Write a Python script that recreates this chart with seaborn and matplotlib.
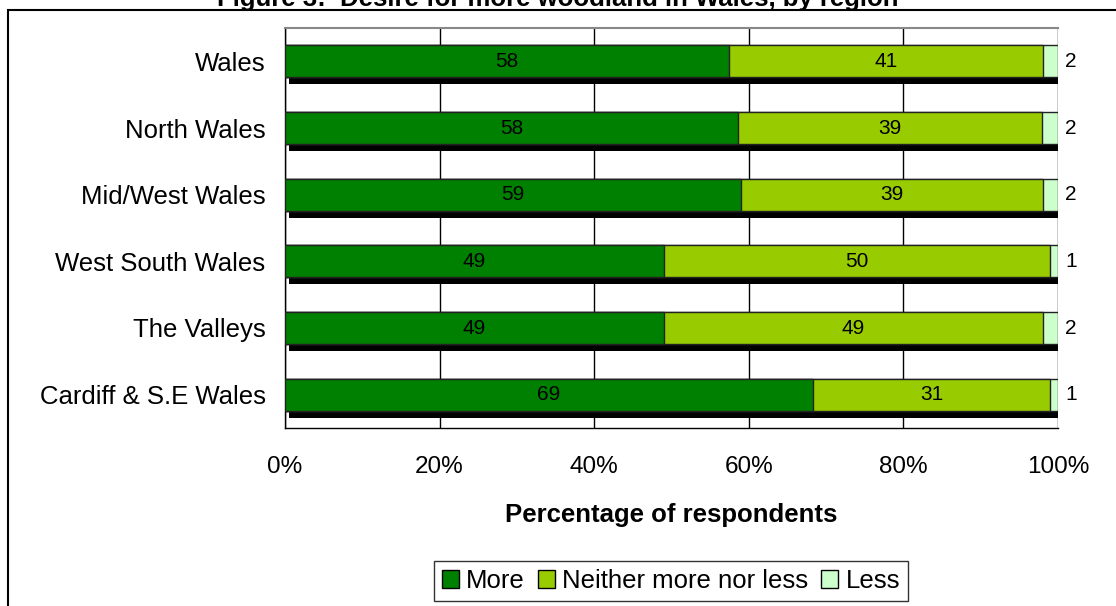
import matplotlib
matplotlib.use('Agg')
import matplotlib.pyplot as plt
import matplotlib.transforms as mtransforms
from matplotlib.patches import Rectangle, Patch
import seaborn as sns
import pandas as pd
import numpy as np

regions = ['Wales', 'North Wales', 'Mid/West Wales', 'West South Wales',
           'The Valleys', 'Cardiff & S.E Wales']
more = [58, 58, 59, 49, 49, 69]
neither = [41, 39, 39, 50, 49, 31]
less = [2, 2, 2, 1, 2, 1]
series_names = ['More', 'Neither more nor less', 'Less']
colours = ['#008000', '#99CC00', '#CCFFCC']

df = pd.DataFrame({'region': regions, 'More': more,
                   'Neither more nor less': neither, 'Less': less})
tot = df[series_names].sum(axis=1)
pct = df[series_names].div(tot, axis=0) * 100
cum = pct.cumsum(axis=1)
cum['region'] = regions
cum['shadow'] = 100.0

sns.set_style('white')
plt.rcParams['font.family'] = ['Liberation Sans', 'DejaVu Sans']
plt.rcParams['text.color'] = 'black'
plt.rcParams['axes.labelcolor'] = 'black'
plt.rcParams['xtick.color'] = 'black'
plt.rcParams['ytick.color'] = 'black'

W, H = 1116, 606
fig = plt.figure(figsize=(W / 100, H / 100), dpi=100)
ax = fig.add_axes([285 / W, 1 - 428 / H, 773 / W, 400 / H])

bw = 0.48
# shadow behind each bar
sns.barplot(data=cum, x='shadow', y='region', color='black', orient='h',
            width=bw, ax=ax, saturation=1, linewidth=0)
off = mtransforms.ScaledTranslation(4 / 100, -7 / 100, fig.dpi_scale_trans)
for p in ax.patches:
    p.set_transform(ax.transData + off)
    p.set_zorder(2)
n_sh = len(ax.patches)

# stacked segments, longest (cumulative) first
for name, col in reversed(list(zip(series_names, colours))):
    sns.barplot(data=cum, x=name, y='region', color=col, orient='h', width=bw,
                ax=ax, saturation=1, edgecolor='#222222', linewidth=1)
for p in ax.patches[n_sh:]:
    p.set_zorder(3)

# value labels
for i in range(len(regions)):
    ax.text(pct['More'][i] / 2, i, str(more[i]), ha='center', va='center',
            fontsize=15, zorder=5)
    ax.text(pct['More'][i] + pct['Neither more nor less'][i] / 2, i, str(neither[i]),
            ha='center', va='center', fontsize=15, zorder=5)
    ax.text(100.9, i, str(less[i]), ha='left', va='center', fontsize=15, zorder=5)

ax.set_xlim(0, 100)
ax.set_ylim(len(regions) - 0.5, -0.5)
ax.set_xticks(np.arange(0, 101, 20))
ax.set_xticklabels([f'{v}%' for v in range(0, 101, 20)], fontsize=17.5)
ax.tick_params(axis='x', direction='out', length=7, width=1, color='black', pad=13)
ax.set_yticks(range(len(regions)))
ax.set_yticklabels(regions, fontsize=18.5)
ax.tick_params(axis='y', which='major', length=0, pad=14)
ax.set_yticks(np.arange(-0.5, len(regions), 1), minor=True)
ax.tick_params(axis='y', which='minor', direction='out', length=8, width=1, color='black')
ax.set_ylabel('')
ax.set_xlabel('Percentage of respondents', fontsize=18.5, weight='bold', labelpad=18)

ax.grid(axis='x', color='black', linewidth=1)
ax.set_axisbelow(True)
for s in ['left', 'bottom']:
    ax.spines[s].set_color('black')
    ax.spines[s].set_linewidth(1)
ax.spines['top'].set_color('#888888')
ax.spines['top'].set_linewidth(1.5)
ax.spines['right'].set_visible(False)

handles = [Patch(facecolor=c, edgecolor='black', linewidth=1) for c in colours]
leg = fig.legend(handles, series_names, loc='center', bbox_to_anchor=(671 / W, 1 - 581 / H),
                 ncol=3, fontsize=18.5, frameon=True, fancybox=False, edgecolor='black',
                 handlelength=0.65, handleheight=0.65, handletextpad=0.3, columnspacing=0.5,
                 borderpad=0.3)
leg.get_frame().set_linewidth(1)

# outer chart border and the title, clipped at the top edge as in the source
fig.patches.append(Rectangle((8 / W, -0.1), 1.2, 1.1 - 10 / H, transform=fig.transFigure,
                             fill=False, edgecolor='black', linewidth=1.5))
fig.text(0.5, 1 - 6 / H, 'Figure 3:  Desire for more woodland in Wales, by region',
         ha='center', va='baseline', fontsize=18.5, weight='bold')

fig.savefig('out.png', dpi=100)
